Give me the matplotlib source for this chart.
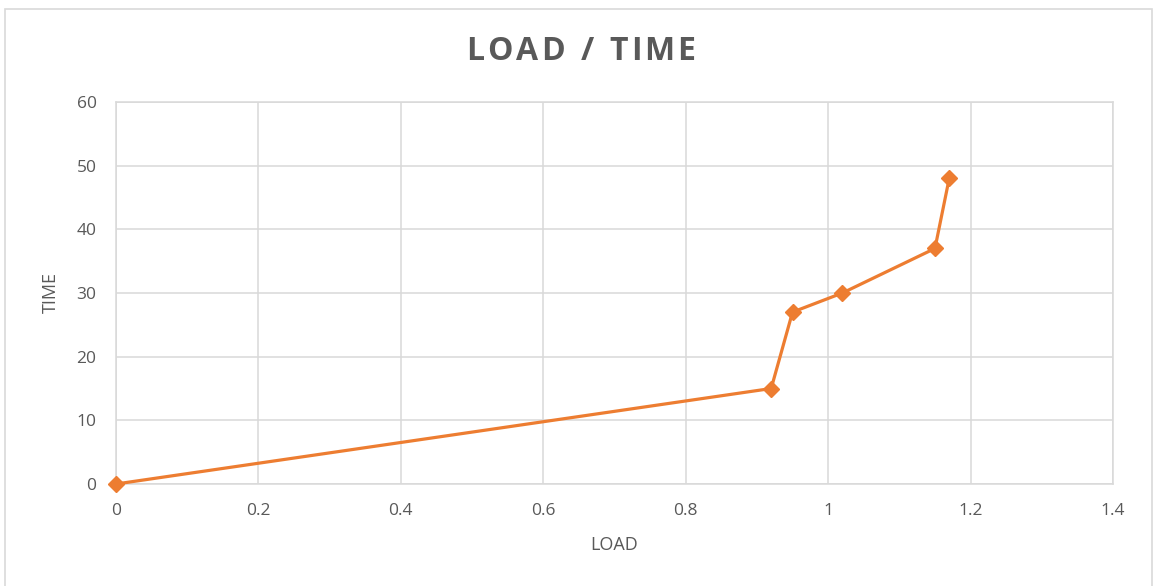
import matplotlib.pyplot as plt
from matplotlib.patches import Rectangle

# data
load = [0, 0.92, 0.95, 1.02, 1.15, 1.17]
time = [0, 15, 27, 30, 37, 48]
x_ticks = [0, 0.2, 0.4, 0.6, 0.8, 1, 1.2, 1.4]
x_tick_labels = ['0', '0.2', '0.4', '0.6', '0.8', '1', '1.2', '1.4']
y_ticks = [0, 10, 20, 30, 40, 50, 60]
title = 'LOAD / TIME'

plt.rcParams['font.family'] = ['Open Sans', 'DejaVu Sans']
text_col = '#595959'
grid_col = '#D9D9D9'
orange = '#ED7D31'

W, H = 1158, 586
fig = plt.figure(figsize=(W / 100, H / 100), dpi=100)
ax = fig.add_axes([116 / W, 1 - 484 / H, (1113 - 116) / W, (484 - 102) / H])

# outer chart frame
fig.patches.append(Rectangle((5 / W, -0.01), 1147 / W, 1 - 9 / H + 0.01,
                             transform=fig.transFigure, fill=False,
                             edgecolor=grid_col, linewidth=1.2))

ax.plot(load, time, color=orange, linewidth=2.3, marker='D', markersize=8.5,
        clip_on=False, zorder=3)

ax.set_xlim(0, 1.4)
ax.set_ylim(0, 60)
ax.set_xticks(x_ticks)
ax.set_xticklabels(x_tick_labels)
ax.set_yticks(y_ticks)
ax.grid(True, color=grid_col, linewidth=1.1)
ax.set_axisbelow(True)
for s in ax.spines.values():
    s.set_color(grid_col)
    s.set_linewidth(1.1)
ax.tick_params(length=0, colors=text_col, labelsize=12.5)
ax.tick_params(axis='x', pad=14)
ax.tick_params(axis='y', pad=14)

ax.set_xlabel('LOAD', color=text_col, fontsize=13, labelpad=12)
ax.set_ylabel('TIME', color=text_col, fontsize=13, labelpad=12)

# title with letter spacing (drawn letter by letter)
renderer = fig.canvas.get_renderer()
fsize = 23
widths = []
for ch in title:
    t = fig.text(0, 0, ch if ch != ' ' else 'i', fontsize=fsize, fontweight='bold')
    widths.append(t.get_window_extent(renderer).width)
    t.remove()
target = 229.0
gap = (target - sum(widths)) / (len(title) - 1)
x = 581 - target / 2
for ch, w in zip(title, widths):
    if ch != ' ':
        fig.text(x / W, 1 - 52 / H, ch, ha='left', va='center',
                 fontsize=fsize, fontweight='bold', color=text_col)
    x += w + gap

fig.savefig('out.png', dpi=100)
